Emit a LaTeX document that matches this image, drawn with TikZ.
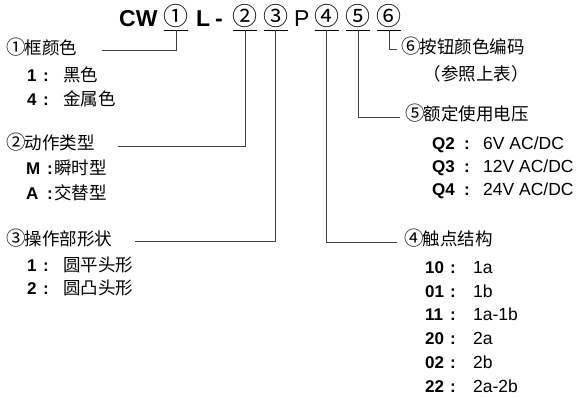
\documentclass[tikz,border=0pt]{standalone}
\usepackage{fontspec}
\setmainfont{Liberation Sans}
\newfontfamily\cjk{Noto Sans CJK SC}
\newcommand\circd[1]{\makebox[1em][c]{\fontsize{19.5}{20}\selectfont #1}}
\begin{document}
\begin{tikzpicture}[x=1pt,y=-1pt,
  ttl/.style={inner sep=0pt, anchor=base west, font=\fontsize{23}{24}\selectfont\bfseries},
  ttlp/.style={inner sep=0pt, anchor=base west, font=\fontsize{23}{24}\selectfont},
  ttlc/.style={inner sep=0pt, anchor=base, font=\fontsize{25}{24}\selectfont\cjk},
  hdr/.style={inner sep=0pt, text height=0.75em, text depth=0pt, anchor=west, font=\fontsize{17.5}{20}\selectfont\cjk},
  key/.style={inner sep=0pt, text height=0.75em, text depth=0pt, anchor=west, font=\fontsize{17}{20}\selectfont\bfseries},
  col/.style={inner sep=0pt, text height=0.75em, text depth=0pt, anchor=center, font=\fontsize{17}{20}\selectfont\bfseries},
  val/.style={inner sep=0pt, text height=0.75em, text depth=0pt, anchor=west, font=\fontsize{17.5}{20}\selectfont\cjk},
  vall/.style={inner sep=0pt, text height=0.75em, text depth=0pt, anchor=west, font=\fontsize{17.5}{20}\selectfont},
  ul/.style={draw=black, line width=0.9pt},
  conn/.style={draw=black!75, line width=1pt}
]
\useasboundingbox (0,0) rectangle (580,396);

% title
\node[ttl] (cw) at (119,27) {CW};
\node[ttlc] (d1) at (176,26) {①};
\node[ttl] (tl) at (196,27) {L};
\node[ttl] (td) at (215,27) {-};
\node[ttlc] (d2) at (245,26) {②};
\node[ttlc] (d3) at (275.5,26) {③};
\node[ttlp] (tp) at (294,27) {P};
\node[ttlc] (d4) at (327,26) {④};
\node[ttlc] (d5) at (358,26) {⑤};
\node[ttlc] (d6) at (388.5,26) {⑥};

% underline anchors
\coordinate (u1) at (176,30.5);
\coordinate (u2) at (245,30.5);
\coordinate (u3) at (275.5,30.5);
\coordinate (u4) at (326.5,30.5);
\coordinate (u5) at (358,30.5);
\coordinate (u6) at (389,30.5);
\foreach \u in {u1,u2,u3,u4,u5,u6}
  \draw[ul] ([xshift=-12pt]\u) -- ([xshift=12pt]\u);

% connector ends
\coordinate (e1) at (102,51);
\coordinate (e2) at (118,146);
\coordinate (e3) at (135,241.5);
\coordinate (e4) at (397,242);
\coordinate (e5) at (400,117);
\coordinate (e6) at (397,50);

\draw[conn] (u1) |- (e1);
\draw[conn] (u2) |- (e2);
\draw[conn] (u3) |- (e3);
\draw[conn] (u4) |- (e4);
\draw[conn] (u5) |- (e5);
\draw[conn] (u6) |- (e6);

% left group 1
\node[hdr] (h1) at (7,51) {\circd{①}框颜色};
\node[key] (k11) at (27,78) {1};
\node[col] (c11) at (46,78) {:};
\node[val] (v11) at (63,78) {黑色};
\node[key] (k12) at (27,102) {4};
\node[col] (c12) at (46,102) {:};
\node[val] (v12) at (63,102) {金属色};

% left group 2
\node[hdr] (h2) at (7,146) {\circd{②}动作类型};
\node[key] (k21) at (26,171) {M};
\node[col] (c21) at (50,171) {:};
\node[val] (v21) at (54,171) {瞬时型};
\node[key] (k22) at (26,196) {A};
\node[col] (c22) at (50,196) {:};
\node[val] (v22) at (54,196) {交替型};

% left group 3
\node[hdr] (h3) at (7,242) {\circd{③}操作部形状};
\node[key] (k31) at (27,268) {1};
\node[col] (c31) at (46,268) {:};
\node[val] (v31) at (63,268) {圆平头形};
\node[key] (k32) at (27,291) {2};
\node[col] (c32) at (46,291) {:};
\node[val] (v32) at (63,291) {圆凸头形};

% right group 6
\node[hdr] (h6) at (402,50) {\circd{⑥}按钮颜色编码};
\node[hdr, anchor=center] (n6) at (476,77) {（参照上表）};

% right group 5
\node[hdr] (h5) at (406,117) {\circd{⑤}额定使用电压};
\node[key] (k51) at (432,146) {Q2};
\node[col] (c51) at (467,146) {:};
\node[vall] (v51) at (483,146) {6V AC/DC};
\node[key] (k52) at (432,169) {Q3};
\node[col] (c52) at (467,169) {:};
\node[vall] (v52) at (483,169) {12V AC/DC};
\node[key] (k53) at (432,192) {Q4};
\node[col] (c53) at (467,192) {:};
\node[vall] (v53) at (483,192) {24V AC/DC};

% right group 4
\node[hdr] (h4) at (405,242) {\circd{④}触点结构};
\foreach \k/\v/\y in {10/1a/270, 01/1b/294, 11/1a-1b/317, 20/2a/341, 02/2b/365, 22/2a-2b/389}{
  \node[key] (k4\k) at (425,\y) {\k};
  \node[col] (c4\k) at (453,\y) {:};
  \node[vall] (v4\k) at (473,\y) {\v};
}
\end{tikzpicture}
\end{document}
